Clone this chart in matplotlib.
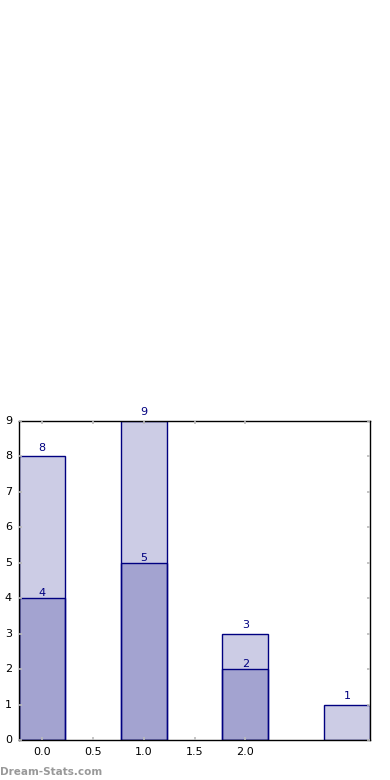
import matplotlib
matplotlib.use("Agg")
import matplotlib.pyplot as plt

## Data
positions = [0, 1, 2, 3]
totals = [8, 9, 3, 1]
inner_positions = [0, 1, 2]
inner = [4, 5, 2]
xtick_vals = [0.0, 0.5, 1.0, 1.5, 2.0]
yticks = list(range(10))

plt.style.use("classic")
fig = plt.figure(figsize=(3.9, 7.8), dpi=100)
ax = fig.add_axes([19 / 390, 40 / 780, 351 / 390, 319 / 780])

width = 0.45
# light outer bars, then the inner ones stacked on top (alpha doubles up)
ax.bar(positions, totals, width, align="center", color="navy", alpha=0.2,
       edgecolor="none")
ax.bar(positions, totals, width, align="center", fill=False, edgecolor="navy",
       linewidth=1)
ax.bar(inner_positions, inner, width, align="center", color="navy", alpha=0.2,
       edgecolor="none")
ax.bar(inner_positions, inner, width, align="center", fill=False,
       edgecolor="navy", linewidth=1)

for x, v in zip(positions, totals):
    ax.text(x, v + 0.1, str(v), ha="center", va="bottom", color="navy",
            fontsize=8)
for x, v in zip(inner_positions, inner):
    ax.text(x, v, str(v), ha="center", va="bottom", color="navy",
            fontsize=8)

ax.set_xlim(-width / 2, 3 + width / 2)
ax.set_ylim(0, 9)
ax.set_xticks(xtick_vals)
ax.set_xticklabels(["%.1f" % t for t in xtick_vals])
ax.set_yticks(yticks)
ax.tick_params(labelsize=8, color="#bbbbbb", direction="in", length=2.5,
               width=1.2, top=True, right=True, pad=5)
for s in ax.spines.values():
    s.set_linewidth(1)

fig.text(0.0, 0.004, "Dream-Stats.com", color="#999999", fontsize=7.5,
         fontweight="bold", ha="left", va="bottom")

fig.savefig("out.png", dpi=100, facecolor="white")
